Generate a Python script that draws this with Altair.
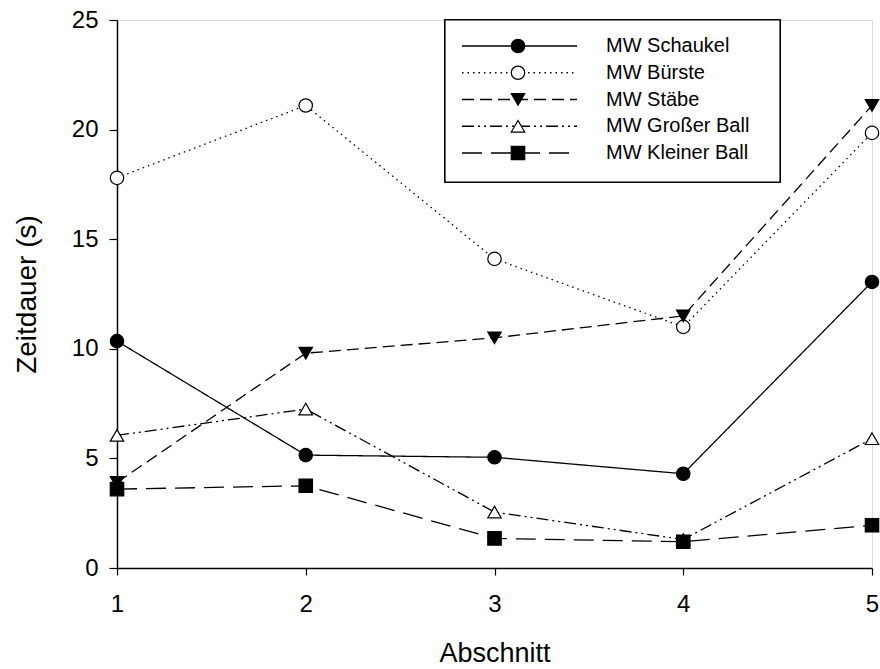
import altair as alt
import pandas as pd

abschnitt = [1, 2, 3, 4, 5]
series_names = ["MW Schaukel", "MW Bürste", "MW Stäbe", "MW Großer Ball", "MW Kleiner Ball"]
schaukel = [10.35, 5.15, 5.05, 4.3, 13.05]
buerste = [17.8, 21.1, 14.1, 11.0, 19.85]
staebe = [3.9, 9.8, 10.5, 11.5, 21.1]
grosser_ball = [6.05, 7.25, 2.55, 1.3, 5.9]
kleiner_ball = [3.6, 3.75, 1.35, 1.2, 1.95]

values = [schaukel, buerste, staebe, grosser_ball, kleiner_ball]
dashes = [[1, 0], [1.5, 4], [12, 6], [12, 4, 2, 4, 2, 4], [20, 9]]
shapes = ["circle", "circle", "triangle-down", "triangle-up", "square"]
fills = ["black", "white", "black", "white", "black"]

rows = []
for name, vals in zip(series_names, values):
    for a, v in zip(abschnitt, vals):
        rows.append({"series": name, "Abschnitt": a, "Zeitdauer": v})
df = pd.DataFrame(rows)
leg = pd.DataFrame({"series": series_names})

FONT = "Liberation Sans"
W, H = 755, 548

x_enc = alt.X("Abschnitt:Q", scale=alt.Scale(domain=[1, 5], nice=False),
              axis=alt.Axis(values=abschnitt, format="d", title="Abschnitt", grid=False,
                            tickSize=7, labelPadding=17, titlePadding=24,
                            labelFontSize=24, titleFontSize=27, labelFont=FONT, titleFont=FONT,
                            titleFontWeight="normal", domainColor="black", tickColor="black",
                            domainWidth=1.5, tickWidth=1.2,
                            labelColor="black", titleColor="black", labelFlush=False))
y_enc = alt.Y("Zeitdauer:Q", scale=alt.Scale(domain=[0, 25], nice=False),
              axis=alt.Axis(values=[0, 5, 10, 15, 20, 25], title="Zeitdauer (s)", grid=False,
                            tickSize=8, labelPadding=11, titlePadding=30,
                            labelFontSize=24, titleFontSize=28, labelFont=FONT, titleFont=FONT,
                            titleFontWeight="normal", domainColor="black", tickColor="black",
                            domainWidth=1.5, tickWidth=1.2,
                            labelColor="black", titleColor="black"))

dash_scale = alt.Scale(domain=series_names, range=dashes)
shape_scale = alt.Scale(domain=series_names, range=shapes)
fill_scale = alt.Scale(domain=series_names, range=fills)

lines = alt.Chart(df).mark_line(color="black", strokeWidth=1.3).encode(
    x=x_enc, y=y_enc,
    strokeDash=alt.StrokeDash("series:N", scale=dash_scale, legend=None),
    detail="series:N",
)
points = alt.Chart(df).mark_point(stroke="black", strokeWidth=1.2, size=180, opacity=1).encode(
    x="Abschnitt:Q", y="Zeitdauer:Q",
    shape=alt.Shape("series:N", scale=shape_scale, legend=None),
    fill=alt.Fill("series:N", scale=fill_scale, legend=None),
)
main = alt.layer(lines, points)

# legend
ly = alt.Y("series:N", scale=alt.Scale(type="point", domain=series_names, range=[26, 133], padding=0), axis=None)
box = alt.Chart(leg).mark_rect(fill="white", stroke="black", strokeWidth=1.2).encode(
    x=alt.value(328), x2=alt.value(663), y=alt.value(0), y2=alt.value(162))
leg_lines = alt.Chart(leg).mark_rule(color="black", strokeWidth=1.3).encode(
    x=alt.value(345), x2=alt.value(460), y=ly,
    strokeDash=alt.StrokeDash("series:N", scale=dash_scale, legend=None))
leg_pts = alt.Chart(leg).mark_point(stroke="black", strokeWidth=1.2, size=180, opacity=1).encode(
    x=alt.value(401), y=ly,
    shape=alt.Shape("series:N", scale=shape_scale, legend=None),
    fill=alt.Fill("series:N", scale=fill_scale, legend=None))
leg_text = alt.Chart(leg).mark_text(align="left", baseline="middle", fontSize=20, font=FONT, color="black").encode(
    x=alt.value(489), y=ly, text="series:N")
legend = alt.layer(box, leg_lines, leg_pts, leg_text)

chart = alt.layer(main, legend).resolve_scale(y="independent").properties(
    width=W, height=H,
    autosize=alt.AutoSizeParams(type="none"),
    padding={"left": 117, "top": 20, "right": 8, "bottom": 101},
).configure_view(stroke="black", strokeWidth=1.5).configure(background="white")

chart.save("out.html", embed_options={"renderer": "svg", "actions": False})
